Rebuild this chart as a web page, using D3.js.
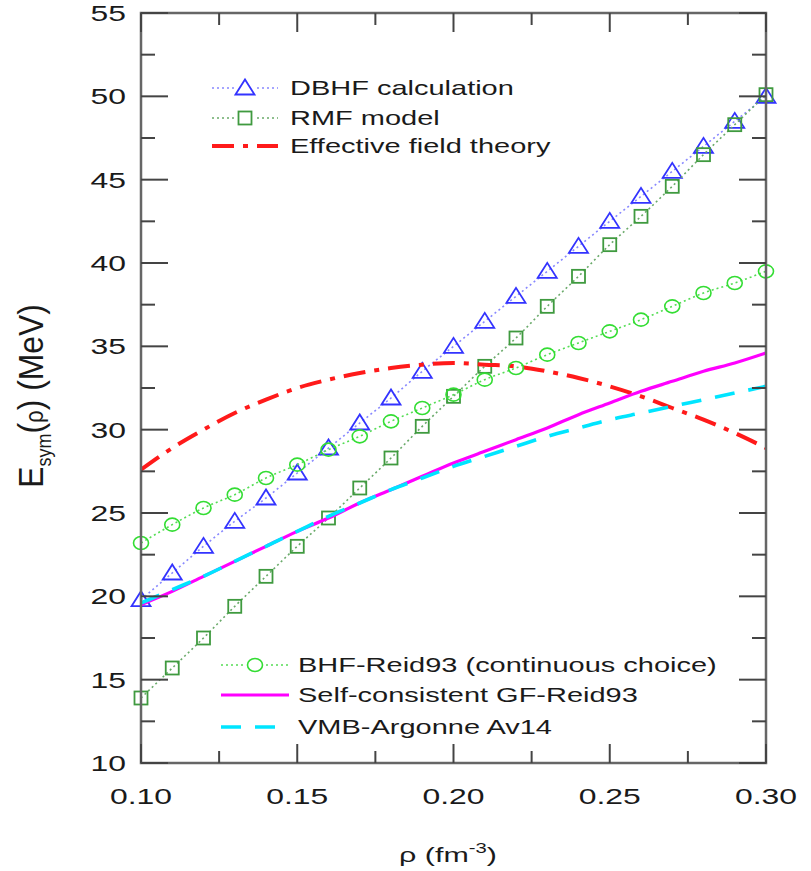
<!DOCTYPE html>
<html>
<head>
<meta charset="utf-8">
<script src="https://cdn.jsdelivr.net/npm/d3@7"></script>
<style>
  body { margin: 0; background: #fff; }
  text { font-family: "Liberation Sans", Arial, sans-serif; fill: #1a1a1a; }
</style>
</head>
<body>
<script>
// density grid (fm^-3)
var rho = [0.10, 0.11, 0.12, 0.13, 0.14, 0.15, 0.16, 0.17, 0.18, 0.19, 0.20,
           0.21, 0.22, 0.23, 0.24, 0.25, 0.26, 0.27, 0.28, 0.29, 0.30];

var dbhf = [19.8, 21.4, 23.0, 24.5, 25.9, 27.4, 28.9, 30.4, 31.9, 33.5, 35.0,
            36.5, 38.0, 39.5, 41.0, 42.5, 44.0, 45.5, 47.0, 48.5, 50.0];
var rmf  = [13.9, 15.7, 17.5, 19.4, 21.2, 23.0, 24.7, 26.5, 28.3, 30.2, 32.0,
            33.8, 35.5, 37.4, 39.2, 41.1, 42.8, 44.6, 46.5, 48.3, 50.1];
var eft  = [27.6, 28.9, 30.0, 31.0, 31.8, 32.5, 33.0, 33.4, 33.7, 33.9, 34.0,
            33.9, 33.8, 33.5, 33.1, 32.6, 32.0, 31.3, 30.6, 29.8, 28.9];
var bhf  = [23.2, 24.3, 25.3, 26.1, 27.1, 27.9, 28.8, 29.6, 30.5, 31.3, 32.1,
            33.0, 33.7, 34.5, 35.2, 35.9, 36.6, 37.4, 38.2, 38.8, 39.5];
var gf   = [19.5, 20.3, 21.2, 22.1, 23.0, 23.9, 24.7, 25.6, 26.4, 27.2, 28.0,
            28.7, 29.4, 30.1, 30.9, 31.6, 32.3, 32.9, 33.5, 34.0, 34.6];
var vmb  = [19.6, 20.4, 21.2, 22.1, 23.0, 23.9, 24.8, 25.6, 26.4, 27.1, 27.8,
            28.4, 29.0, 29.6, 30.1, 30.6, 31.0, 31.4, 31.8, 32.2, 32.6];

var xTicks = [0.10, 0.15, 0.20, 0.25, 0.30];
var yTicks = [10, 15, 20, 25, 30, 35, 40, 45, 50, 55];

var width = 811, height = 871;
var mLeft = 141, mRight = 766, mTop = 13, mBottom = 763;
var stretch = 1.45; // the original text is drawn wide

var x = d3.scaleLinear().domain([0.10, 0.30]).range([mLeft, mRight]);
var y = d3.scaleLinear().domain([10, 55]).range([mBottom, mTop]);

var svg = d3.select("body").append("svg")
    .attr("width", width)
    .attr("height", height);

// series styles
var series = [
  {name: "DBHF calculation", vals: dbhf, color: "#3333ff", line: "#8888ff", dash: "2,3", lw: 1.6, marker: "tri"},
  {name: "RMF model", vals: rmf, color: "#3f9a3f", line: "#6aaa6a", dash: "2,3", lw: 1.6, marker: "sq"},
  {name: "Effective field theory", vals: eft, color: "#ff1a1a", line: "#ff1a1a", dash: "22,9,5,9", lw: 4, marker: null},
  {name: "BHF-Reid93 (continuous choice)", vals: bhf, color: "#33dd33", line: "#55dd55", dash: "2,3", lw: 1.6, marker: "circ"},
  {name: "Self-consistent GF-Reid93", vals: gf, color: "#ff00ff", line: "#ff00ff", dash: null, lw: 3.2, marker: null},
  {name: "VMB-Argonne Av14", vals: vmb, color: "#00e5ff", line: "#00e5ff", dash: "20,14", lw: 3.6, marker: null}
];

function txt(px, py, anchor, size, s) {
  return svg.append("text")
      .attr("transform", "translate(" + px + "," + py + ") scale(" + stretch + ",1)")
      .attr("text-anchor", anchor)
      .attr("font-size", size)
      .text(s);
}

function drawMarker(g, type, cx, cy, color) {
  if (type == "tri") {
    g.append("path")
      .attr("d", "M" + (cx - 9.5) + "," + (cy + 6.5) + "L" + cx + "," + (cy - 8.5) + "L" + (cx + 9.5) + "," + (cy + 6.5) + "Z")
      .attr("fill", "none").attr("stroke", color).attr("stroke-width", 1.8);
  } else if (type == "sq") {
    g.append("rect")
      .attr("x", cx - 6.5).attr("y", cy - 6.5).attr("width", 13).attr("height", 13)
      .attr("fill", "none").attr("stroke", color).attr("stroke-width", 1.8);
  } else if (type == "circ") {
    g.append("ellipse")
      .attr("cx", cx).attr("cy", cy).attr("rx", 7.5).attr("ry", 6.5)
      .attr("fill", "none").attr("stroke", color).attr("stroke-width", 1.6);
  }
}

var line = d3.line()
    .x(function(d) { return x(d[0]); })
    .y(function(d) { return y(d[1]); })
    .curve(d3.curveMonotoneX);

var plot = svg.append("g");

series.forEach(function(s) {
  var pts = rho.map(function(r, i) { return [r, s.vals[i]]; });
  var p = plot.append("path")
      .datum(pts)
      .attr("d", line)
      .attr("fill", "none")
      .attr("stroke", s.line)
      .attr("stroke-width", s.lw);
  if (s.dash) p.attr("stroke-dasharray", s.dash);
  if (s.marker) {
    pts.forEach(function(d) { drawMarker(plot, s.marker, x(d[0]), y(d[1]), s.color); });
  }
});

// frame and ticks
var frame = svg.append("g");
frame.append("rect")
    .attr("x", mLeft).attr("y", mTop)
    .attr("width", mRight - mLeft).attr("height", mBottom - mTop)
    .attr("fill", "none").attr("stroke", "#666").attr("stroke-width", 2.5);

var yMinor = d3.range(12.5, 55, 5);
var xMinor = [0.125, 0.175, 0.225, 0.275];

function tick(x1, y1, x2, y2) {
  frame.append("line").attr("x1", x1).attr("y1", y1).attr("x2", x2).attr("y2", y2)
      .attr("stroke", "#444").attr("stroke-width", 2);
}

yTicks.forEach(function(v) {
  tick(mLeft, y(v), mLeft + 27, y(v));
  tick(mRight, y(v), mRight - 27, y(v));
  txt(126, y(v) + 8, "end", 22, v);
});
yMinor.forEach(function(v) {
  tick(mLeft, y(v), mLeft + 14, y(v));
  tick(mRight, y(v), mRight - 14, y(v));
});
xTicks.forEach(function(v) {
  tick(x(v), mBottom, x(v), mBottom - 19);
  tick(x(v), mTop, x(v), mTop + 19);
  txt(x(v), 804, "middle", 22, d3.format(".2f")(v));
});
xMinor.forEach(function(v) {
  tick(x(v), mBottom, x(v), mBottom - 12);
  tick(x(v), mTop, x(v), mTop + 12);
});

// axis titles
var xt = txt(448, 862, "middle", 21, null);
xt.append("tspan").text("ρ (fm");
xt.append("tspan").attr("dy", -9).attr("font-size", 14).text("-3");
xt.append("tspan").attr("dy", 9).text(")");

var yt = svg.append("text")
    .attr("transform", "translate(43,396) rotate(-90) scale(1.06,1.2)")
    .attr("text-anchor", "middle").attr("font-size", 30);
yt.append("tspan").text("E");
yt.append("tspan").attr("dy", 7).attr("font-size", 17).text("sym");
yt.append("tspan").attr("dy", -7).text("(");
yt.append("tspan").attr("font-size", 21).text("ρ");
yt.append("tspan").text(") (MeV)");

// legends
function legend(items, x0, x1, tx, ys) {
  items.forEach(function(s, i) {
    var g = svg.append("g");
    var l = g.append("line").attr("x1", x0).attr("x2", x1).attr("y1", ys[i]).attr("y2", ys[i])
        .attr("stroke", s.line).attr("stroke-width", s.lw);
    if (s.dash) l.attr("stroke-dasharray", s.dash);
    if (s.marker) {
      g.append("rect").attr("x", (x0 + x1) / 2 - 11).attr("y", ys[i] - 9).attr("width", 22).attr("height", 18).attr("fill", "#fff");
      drawMarker(g, s.marker, (x0 + x1) / 2, ys[i], s.color);
    }
    txt(tx, ys[i] + 7, "start", 20, s.name);
  });
}
legend(series.slice(0, 3), 212, 278, 290, [88, 118, 146]);
legend(series.slice(3, 6), 221, 289, 298, [665, 695, 727]);
</script>
</body>
</html>
